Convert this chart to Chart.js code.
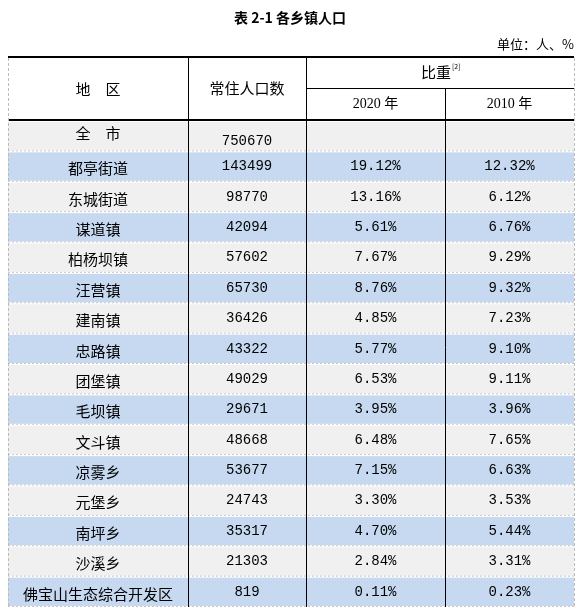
<!DOCTYPE html>
<html><head><meta charset="utf-8">
<script src="https://cdn.jsdelivr.net/npm/chart.js@4/dist/chart.umd.min.js"></script>
<style>html,body{margin:0;padding:0;background:#fff}</style>
</head><body>
<canvas id="c" width="580" height="614"></canvas>
<script>
const title = '表 2-1 各乡镇人口';
const unitText = '单位：人、%';
const regions = ['全　市','都亭街道','东城街道','谋道镇','柏杨坝镇','汪营镇','建南镇','忠路镇','团堡镇','毛坝镇','文斗镇','凉雾乡','元堡乡','南坪乡','沙溪乡','佛宝山生态综合开发区'];
const population = [750670,143499,98770,42094,57602,65730,36426,43322,49029,29671,48668,53677,24743,35317,21303,819];
const share2020 = [null,19.12,13.16,5.61,7.67,8.76,4.85,5.77,6.53,3.95,6.48,7.15,3.30,4.70,2.84,0.11];
const share2010 = [null,12.32,6.12,6.76,9.29,9.32,7.23,9.10,9.11,3.96,7.65,6.63,3.53,5.44,3.31,0.23];

const colX = [8,188,306,445,574];
const CJK = '"Noto Sans CJK SC"';
const tablePlugin = {
  id:'table',
  afterDraw(chart){
    const ctx = chart.ctx, ys = chart.scales.y, area = chart.chartArea;
    const L = colX[0], R = colX[4];
    ctx.save();
    ctx.textAlign='center'; ctx.textBaseline='middle';
    // title
    ctx.fillStyle='#000'; ctx.font='bold 14px '+CJK;
    ctx.fillText(title,290,18);
    ctx.font='13px '+CJK; ctx.textAlign='right';
    ctx.fillText(unitText,574,44);
    ctx.textAlign='center';
    const rowH = (area.bottom-area.top)/regions.length;
    // rows
    regions.forEach((r,i)=>{
      const cy = ys.getPixelForValue(i);
      const t = cy-rowH/2;
      ctx.fillStyle = i%2===0 ? '#f0f0f0' : '#c6d9f0';
      ctx.fillRect(L,t+1,R-L,rowH-2);
      ctx.strokeStyle='#c8c8c8'; ctx.setLineDash([2,2]); ctx.lineWidth=1;
      ctx.beginPath(); ctx.moveTo(L,t+rowH-0.5); ctx.lineTo(R,t+rowH-0.5); ctx.stroke();
      ctx.setLineDash([]);
      ctx.fillStyle='#000';
      ctx.font='15px '+CJK;
      ctx.fillText(r,(colX[0]+colX[1])/2, i===0? cy-3 : cy+2);
      ctx.font='14px "Liberation Mono"';
      ctx.fillText(String(population[i]),(colX[1]+colX[2])/2, i===0? cy+5 : cy);
      if(share2020[i]!=null) ctx.fillText(share2020[i].toFixed(2)+'%',(colX[2]+colX[3])/2,cy);
      if(share2010[i]!=null) ctx.fillText(share2010[i].toFixed(2)+'%',(colX[3]+colX[4])/2,cy);
    });
    // header
    ctx.font='15px '+CJK; ctx.fillStyle='#000';
    ctx.fillText('地　区',(colX[0]+colX[1])/2,89);
    ctx.fillText('常住人口数',(colX[1]+colX[2])/2,88);
    ctx.fillText('比重',(colX[2]+colX[4])/2-4,72);
    ctx.font='7px '+CJK; ctx.textAlign='left';
    ctx.fillText('[2]',(colX[2]+colX[4])/2+12,66);
    ctx.textAlign='center'; ctx.font='14px "Liberation Serif", '+CJK;
    ctx.fillText('2020 年',(colX[2]+colX[3])/2,104);
    ctx.fillText('2010 年',(colX[3]+colX[4])/2,104);
    // lines
    ctx.strokeStyle='#000';
    ctx.lineWidth=2; ctx.beginPath(); ctx.moveTo(L,57); ctx.lineTo(R,57); ctx.stroke();
    ctx.beginPath(); ctx.moveTo(L,120); ctx.lineTo(R,120); ctx.stroke();
    ctx.lineWidth=1;
    ctx.beginPath(); ctx.moveTo(colX[2],88.5); ctx.lineTo(R,88.5); ctx.stroke();
    [1,2].forEach(k=>{ctx.beginPath();ctx.moveTo(colX[k]+0.5,57);ctx.lineTo(colX[k]+0.5,area.bottom);ctx.stroke();});
    ctx.beginPath();ctx.moveTo(colX[3]+0.5,88);ctx.lineTo(colX[3]+0.5,area.bottom);ctx.stroke();
    ctx.strokeStyle='#bbb'; ctx.setLineDash([3,2]);
    [L,R].forEach(x=>{ctx.beginPath();ctx.moveTo(x+0.5,58);ctx.lineTo(x+0.5,area.bottom);ctx.stroke();});
    ctx.restore();
  }
};
new Chart(document.getElementById('c'),{
  type:'bar',
  data:{labels:regions,datasets:[{data:population,backgroundColor:'rgba(0,0,0,0)'}]},
  options:{responsive:false,animation:false,devicePixelRatio:1,
    layout:{padding:{top:121,bottom:7,left:0,right:0}},
    plugins:{legend:{display:false},tooltip:{enabled:false}},
    indexAxis:'y',
    scales:{y:{display:false},x:{display:false}}},
  plugins:[tablePlugin]
});
</script>
</body></html>
